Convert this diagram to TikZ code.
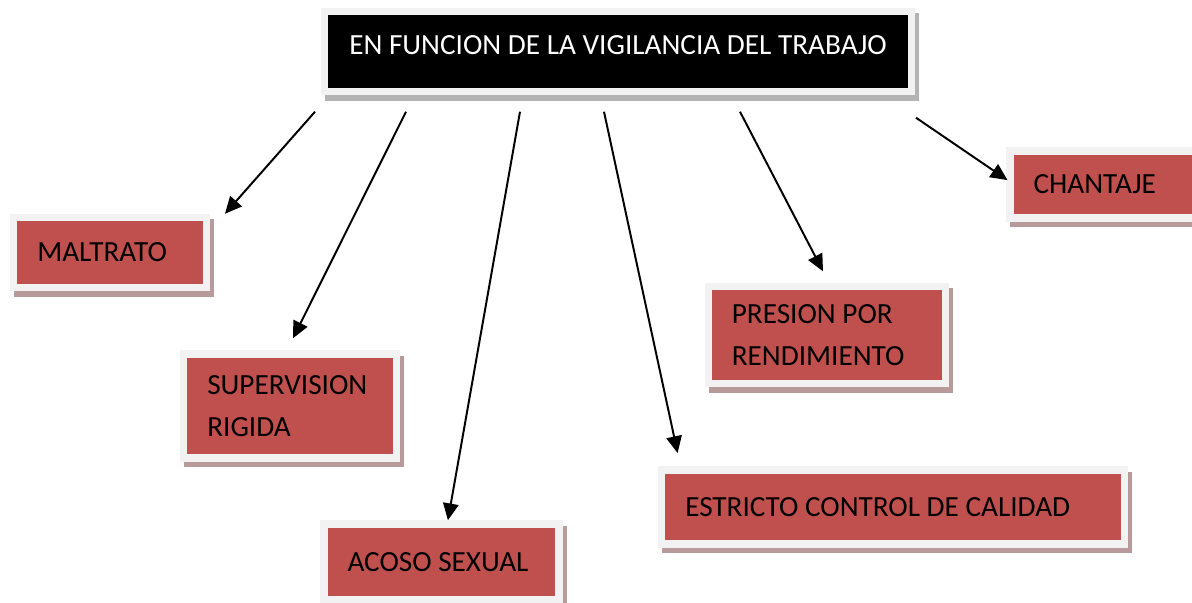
\documentclass[tikz,border=0pt]{standalone}
\usepackage{fontspec}
\setmainfont{Carlito}
\usepackage{tikz}
\usetikzlibrary{calc,arrows.meta}
\definecolor{boxred}{HTML}{C0504D}
\definecolor{framegray}{HTML}{F2F2F2}
\definecolor{shadowred}{HTML}{B79A99}
\definecolor{shadowgray}{HTML}{B3B3B3}

\begin{document}
\begin{tikzpicture}[
    redbox/.style={fill=boxred, draw=framegray, line width=5.3pt,
        preaction={draw=shadowred, fill=shadowred, transform canvas={shift={(0.1,-0.14)}}},
        inner xsep=0.5875cm, align=flush left, font=\fontsize{20.8}{30}\selectfont},
    headbox/.style={fill=black, draw=framegray, line width=5.3pt, text=white,
        preaction={draw=shadowgray, fill=shadowgray, transform canvas={shift={(0.1,-0.14)}}},
        text height=14pt, text depth=10pt, font=\fontsize{20.8}{30}\selectfont},
    link/.style={-{Triangle[length=12pt,width=11pt]}, line width=1.4pt},
]
    \useasboundingbox (0,0) rectangle (29.8,-15.075);

    \node [headbox, minimum width=14.675cm, minimum height=2cm] (title) at (15.45,-1.2875)
        {EN FUNCION DE LA VIGILANCIA DEL TRABAJO};

    \node [redbox, text width=3.6375cm, minimum height=1.75cm] (malt) at (2.75,-6.3125) {MALTRATO};
    \node [redbox, text width=4.1375cm, minimum height=2.6cm] (sup) at (7.25,-10.15) {SUPERVISION\\RIGIDA};
    \node [redbox, text width=4.7cm, minimum height=1.9cm] (acoso) at (11.0375,-14.05) {ACOSO SEXUAL};
    \node [redbox, text width=10.3875cm, minimum height=1.85cm] (estr) at (22.325,-12.675) {ESTRICTO CONTROL DE CALIDAD};
    \node [redbox, text width=4.7625cm, minimum height=2.4375cm] (pres) at (20.675,-8.375) {PRESION POR\\RENDIMIENTO};
    \node [redbox, text width=3.575cm, minimum height=1.675cm] (chan) at (27.625,-4.6125) {CHANTAJE};

    % arrows start just below the title box
    \coordinate (t1) at ($(title.south)+(-7.575,-0.4125)$);
    \coordinate (t2) at ($(title.south)+(-5.3,-0.4125)$);
    \coordinate (t3) at ($(title.south)+(-2.45,-0.4125)$);
    \coordinate (t4) at ($(title.south)+(-0.35,-0.4125)$);
    \coordinate (t5) at ($(title.south)+(3.05,-0.4125)$);
    \coordinate (t6) at ($(title.south)+(7.45,-0.5625)$);

    \draw [link] (t1) -- ([xshift=0.375cm]malt.north east);
    \draw [link] (t2) -- ([shift={(0.075,0.3)}]sup.north);
    \draw [link] (t3) -- ([xshift=0.16cm]acoso.north);
    \draw [link] (t4) -- ([shift={(0.49,0.33)}]estr.north west);
    \draw [link] (t5) -- ([shift={(-0.1,0.28)}]pres.north);
    \draw [link] (t6) -- ([shift={(0.03,0.11)}]chan.west);
\end{tikzpicture}
\end{document}
